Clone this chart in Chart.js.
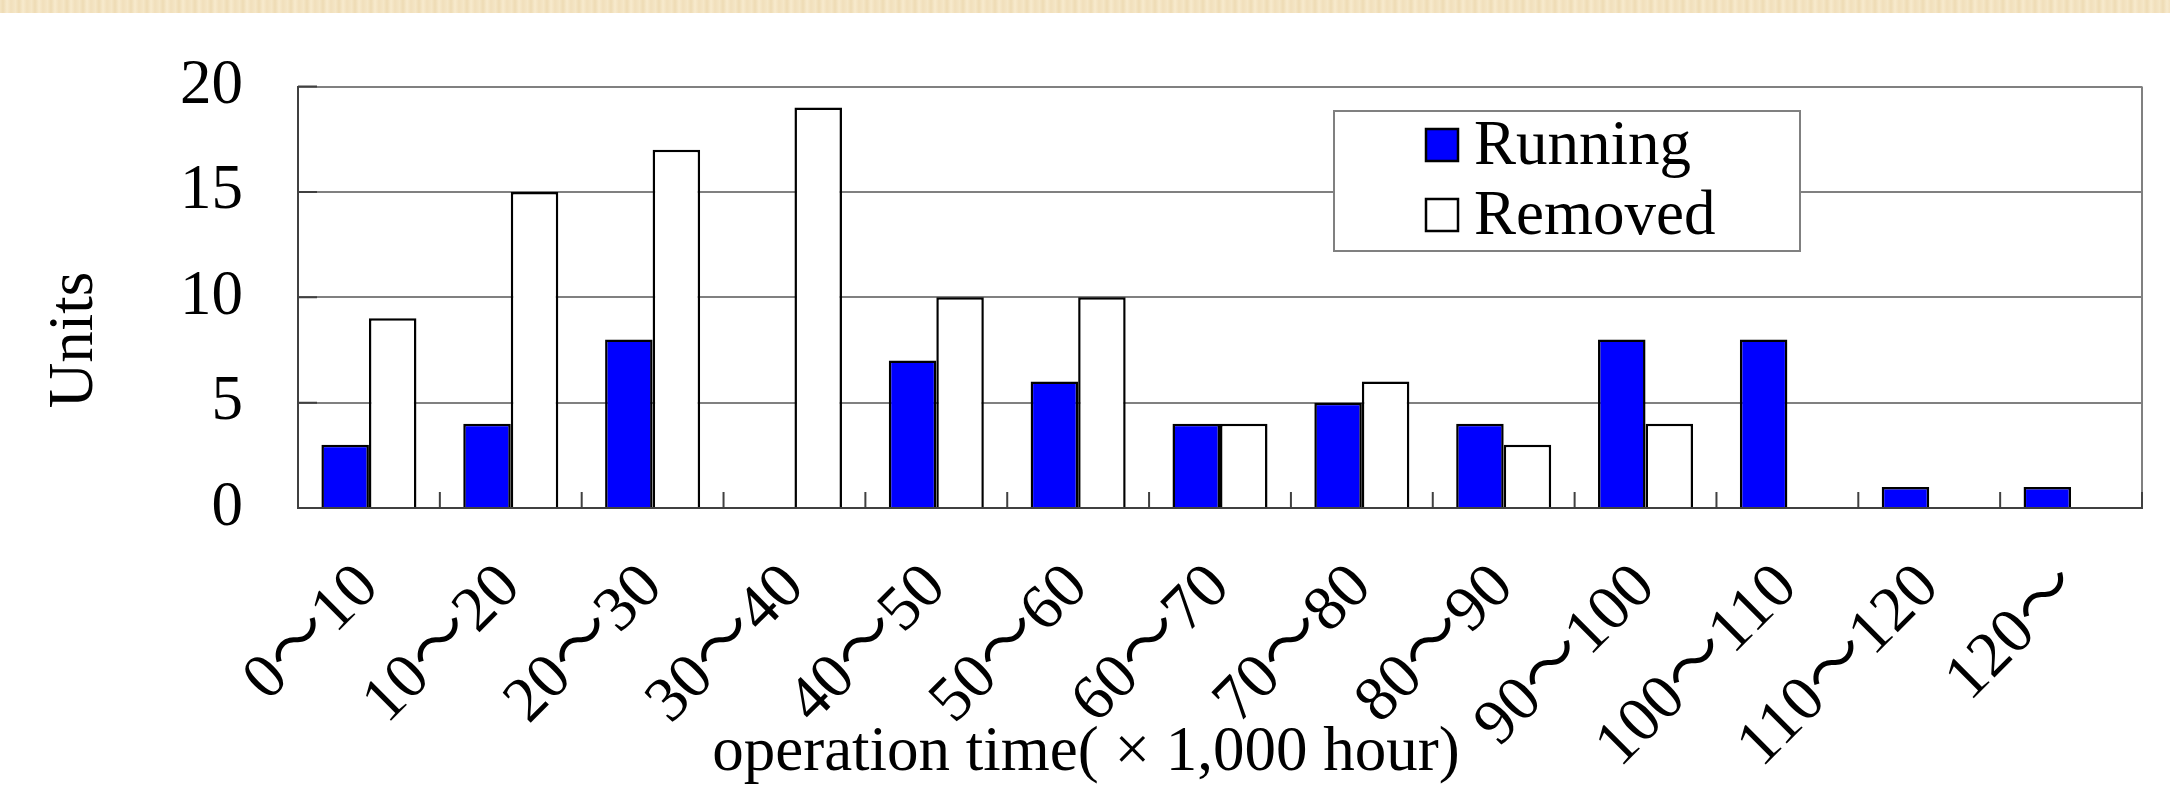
<!DOCTYPE html>
<html>
<head>
<meta charset="utf-8">
<script src="https://cdn.jsdelivr.net/npm/chart.js@4.4.0/dist/chart.umd.min.js"></script>
<style>
html, body { margin: 0; padding: 0; background: #fff; }
#banda {
    position: absolute; left: 0; top: 0; width: 2170px; height: 13px;
    background: repeating-linear-gradient(90deg, #f4e5c4 0px, #eedbb4 3px, #f7eacd 7px, #f1dfbb 11px, #f5e7c8 16px);
}
#contenedor { position: absolute; left: 0; top: 0; width: 2170px; height: 801px; }
</style>
</head>
<body>
<div id="banda"></div>
<div id="contenedor"><canvas id="grafico"></canvas></div>
<script>
// Datos
const categorias = ['0～10', '10～20', '20～30', '30～40', '40～50', '50～60', '60～70',
    '70～80', '80～90', '90～100', '100～110', '110～120', '120～'];
const running = [3, 4, 8, 0, 7, 6, 4, 5, 4, 8, 8, 1, 1];
const removed = [9, 15, 17, 19, 10, 10, 4, 6, 3, 4, 0, 0, 0];
const ticksY = [0, 5, 10, 15, 20];
const tituloY = 'Units';
const tituloX = 'operation time( × 1,000 hour)';

const fuente = "'Liberation Serif', 'Noto Sans CJK JP', serif";

// Bordes, marcas hacia dentro y títulos de los ejes
const decoracion = {
    id: 'decoracion',
    afterDatasetsDraw(chart) {
        const { ctx, chartArea: a, scales: { x, y } } = chart;
        ctx.save();
        ctx.lineWidth = 2;
        ctx.strokeStyle = '#808080';
        ctx.beginPath();
        ctx.moveTo(a.right, a.top);
        ctx.lineTo(a.right, a.bottom);
        ctx.stroke();

        ctx.strokeStyle = '#404040';
        ctx.beginPath();
        ticksY.forEach(v => {
            const py = y.getPixelForValue(v);
            ctx.moveTo(a.left, py);
            ctx.lineTo(a.left + 19, py);
        });
        for (let i = 1; i <= categorias.length; i++) {
            const px = x.getPixelForValue(i - 0.5);
            ctx.moveTo(px, a.bottom);
            ctx.lineTo(px, a.bottom - 16);
        }
        ctx.stroke();

        ctx.fillStyle = '#000';
        ctx.font = '63px ' + fuente;
        ctx.textAlign = 'center';
        ctx.textBaseline = 'middle';
        ctx.save();
        ctx.translate(75, 340);
        ctx.rotate(-Math.PI / 2);
        ctx.fillText(tituloY, 0, 0);
        ctx.restore();
        ctx.fillText(tituloX, 1086, 753);
        ctx.restore();
    }
};

// Leyenda dentro del área del gráfico
const leyenda = {
    id: 'leyenda',
    afterDraw(chart) {
        const { ctx } = chart;
        ctx.save();
        ctx.fillStyle = '#fff';
        ctx.fillRect(1334, 111, 466, 140);
        ctx.strokeStyle = '#808080';
        ctx.lineWidth = 2;
        ctx.strokeRect(1334, 111, 466, 140);
        ctx.font = '63px ' + fuente;
        ctx.textBaseline = 'middle';
        ctx.textAlign = 'left';
        chart.data.datasets.forEach((ds, i) => {
            const cy = 145 + i * 70;
            ctx.fillStyle = ds.backgroundColor;
            ctx.fillRect(1426, cy - 16, 32, 32);
            ctx.strokeStyle = '#000';
            ctx.lineWidth = 2.5;
            ctx.strokeRect(1426, cy - 16, 32, 32);
            ctx.fillStyle = '#000';
            ctx.fillText(ds.label, 1474, cy + 2);
        });
        ctx.restore();
    }
};

const ctx = document.getElementById('grafico').getContext('2d');
const grafico = new Chart(ctx, {
    type: 'bar',
    data: {
        labels: categorias,
        datasets: [{
            label: 'Running',
            data: running,
            backgroundColor: '#0000ff',
            borderColor: '#000',
            borderWidth: 2.5
        }, {
            label: 'Removed',
            data: removed,
            backgroundColor: '#ffffff',
            borderColor: '#000',
            borderWidth: 2.5
        }]
    },
    options: {
        responsive: true,
        maintainAspectRatio: false,
        animation: false,
        devicePixelRatio: 1,
        layout: { padding: { top: 60, right: 28, left: 0, bottom: 0 } },
        datasets: { bar: { categoryPercentage: 0.67, barPercentage: 1.0 } },
        plugins: {
            legend: { display: false },
            tooltip: { enabled: false }
        },
        scales: {
            x: {
                grid: { display: false, drawTicks: false },
                border: { display: true, color: '#404040', width: 2 },
                ticks: {
                    autoSkip: false,
                    minRotation: 45,
                    maxRotation: 45,
                    padding: 42,
                    color: '#000',
                    font: { family: fuente, size: 64 }
                },
                afterFit(scale) { scale.height = 293; }
            },
            y: {
                min: 0,
                max: 20,
                afterBuildTicks(scale) { scale.ticks = ticksY.map(v => ({ value: v })); },
                grid: { color: '#808080', lineWidth: 2, drawTicks: false },
                border: { display: true, color: '#404040', width: 2 },
                ticks: {
                    padding: 55,
                    color: '#000',
                    font: { family: fuente, size: 63, lineHeight: 1.0 }
                },
                afterFit(scale) { scale.width = 298; }
            }
        }
    },
    plugins: [decoracion, leyenda]
});
</script>
</body>
</html>
